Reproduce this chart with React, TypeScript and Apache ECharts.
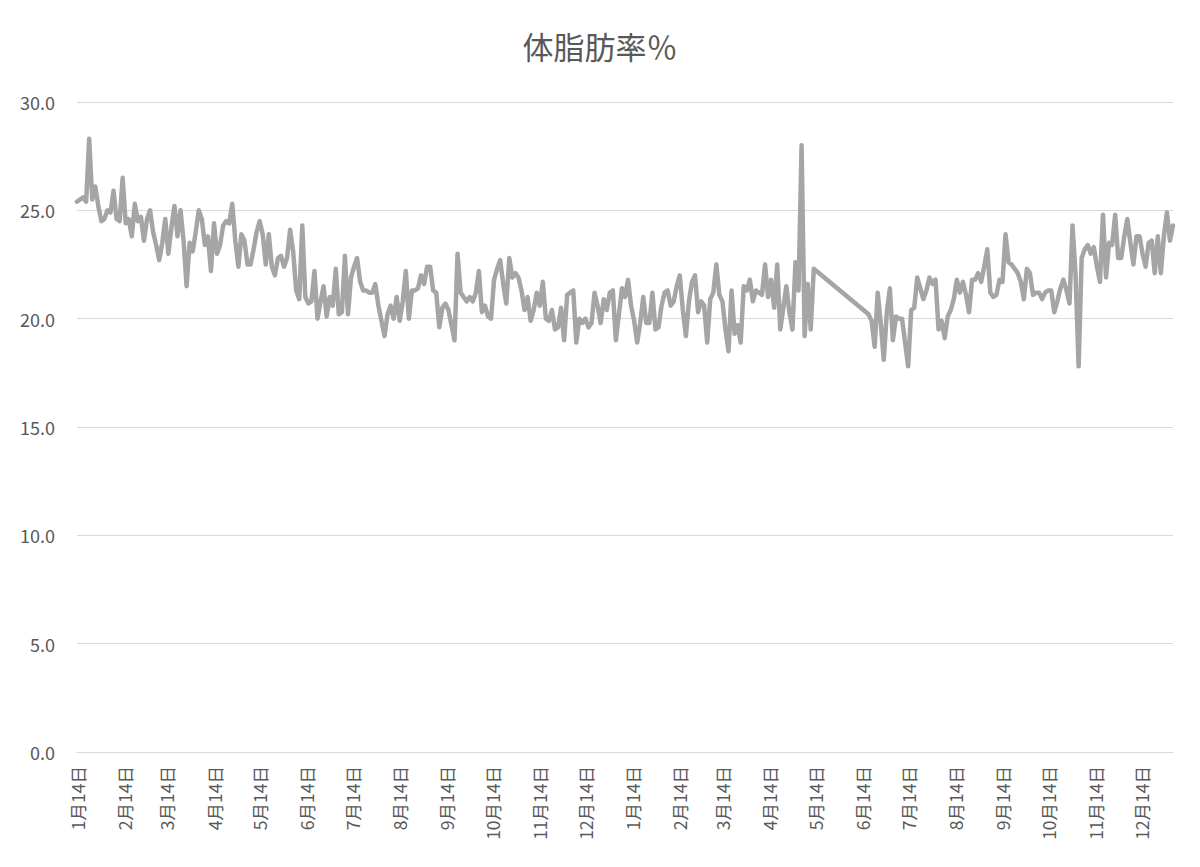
import React, { useEffect, useRef } from "react";
import * as echarts from "echarts";

// Body-fat readings (%), one reading every 2 days starting 2018-01-14; null = no data (gap)
const startYear = 2018;
const startMonth = 0; // January
const startDay = 14;
const stepDays = 2;

const fatPercent: (number | null)[] = [
  // Jan–Feb (year 1)
  25.4, 25.5, 25.6, 25.4, 28.3, 25.5, 26.1, 25.2, 24.5, 24.6, 25.0, 24.9, 25.9, 24.6, 24.5,
  26.5, 24.4, 24.6, 23.8, 25.3, 24.5, 24.7, 23.6, 24.6, 25.0, 24.0, 23.4, 22.7, 23.5,
  // Mar–May
  24.6, 23.0, 24.2, 25.2, 23.8, 25.0, 23.6, 21.5, 23.5, 23.1, 24.0, 25.0, 24.6, 23.4, 23.8,
  22.2, 24.4, 23.0, 23.4, 24.3, 24.5, 24.4, 25.3, 23.6, 22.4, 23.9, 23.6, 22.5, 22.5, 23.2,
  // May–Jul
  24.0, 24.5, 23.9, 22.5, 23.9, 22.4, 22.0, 22.8, 22.9, 22.4, 22.8, 24.1, 23.1, 21.3, 20.9,
  24.3, 21.0, 20.7, 20.8, 22.2, 20.0, 20.8, 21.5, 20.1, 21.0, 20.6, 22.3, 20.2, 20.3, 22.9, 20.2,
  // Jul–Sep
  21.9, 22.4, 22.8, 21.7, 21.3, 21.3, 21.2, 21.2, 21.6, 20.6, 19.9, 19.2, 20.2, 20.6, 20.0,
  21.0, 19.9, 20.8, 22.2, 20.0, 21.3, 21.3, 21.4, 22.0, 21.6, 22.4, 22.4, 21.3, 21.2, 19.6,
  // Sep–Nov
  20.5, 20.7, 20.4, 19.7, 19.0, 23.0, 21.2, 21.0, 20.8, 21.0, 20.8, 21.2, 22.2, 20.3, 20.6,
  20.1, 20.0, 21.8, 22.3, 22.7, 21.6, 20.7, 22.8, 21.9, 22.1, 21.9, 21.3, 20.4, 21.0, 19.9,
  // Nov–Jan
  20.4, 21.2, 20.6, 21.7, 20.0, 19.9, 20.4, 19.5, 19.6, 20.5, 19.0, 21.1, 21.2, 21.3, 18.9,
  20.0, 19.8, 20.0, 19.6, 19.8, 21.2, 20.6, 19.8, 20.9, 20.4, 21.2, 21.3, 19.0, 20.2, 21.4,
  // Jan–Mar (year 2)
  21.0, 21.8, 20.6, 19.9, 18.9, 19.8, 21.0, 19.8, 19.8, 21.2, 19.5, 19.6, 20.6, 21.2, 21.3,
  20.6, 20.8, 21.5, 22.0, 20.4, 19.2, 20.8, 21.7, 22.0, 20.3, 20.8, 20.6, 18.9, 20.9, 21.2,
  // Mar–May
  22.5, 21.1, 20.8, 19.5, 18.5, 21.3, 19.3, 19.7, 18.9, 21.5, 21.3, 21.8, 20.8, 21.3, 21.2,
  21.1, 22.5, 21.0, 21.8, 20.5, 22.5, 19.5, 20.5, 21.5, 20.3, 19.5, 22.6, 21.3, 28.0, 19.2, 21.6,
  // May–Jul (gap)
  19.5, 22.3, null, null, null, null, null, null, null, null, null, null, null, null, null,
  null, null, null, null, 20.2, 19.9, 18.7, 21.2, 19.8, 18.1, 20.3, 21.4, 19.0, 20.1, 20.0,
  // Jul–Sep
  20.0, 18.9, 17.8, 20.4, 20.5, 21.9, 21.4, 20.9, 21.3, 21.9, 21.6, 21.8, 19.5, 19.9, 19.1,
  20.1, 20.4, 20.9, 21.8, 21.2, 21.7, 21.1, 20.3, 21.8, 21.8, 22.1, 21.7, 22.4, 23.2, 21.2,
  // Sep–Nov
  21.0, 21.1, 21.8, 21.7, 23.9, 22.6, 22.5, 22.3, 22.1, 21.7, 20.9, 22.3, 22.1, 21.1, 21.2,
  21.2, 20.9, 21.2, 21.3, 21.3, 20.3, 20.8, 21.4, 21.8, 21.3, 20.7, 24.3, 22.0, 17.8, 22.8,
  // Nov–Jan
  23.2, 23.4, 23.0, 23.3, 22.4, 21.7, 24.8, 21.9, 23.5, 23.4, 24.8, 22.8, 22.8, 23.8, 24.6,
  23.5, 22.5, 23.8, 23.8, 23.0, 22.4, 23.5, 23.6, 22.1, 23.8, 22.1, 23.8, 24.9, 23.6, 24.3,
];

const tickLabels = [
  "1月14日", "2月14日", "3月14日", "4月14日", "5月14日", "6月14日",
  "7月14日", "8月14日", "9月14日", "10月14日", "11月14日", "12月14日",
  "1月14日", "2月14日", "3月14日", "4月14日", "5月14日", "6月14日",
  "7月14日", "8月14日", "9月14日", "10月14日", "11月14日", "12月14日",
];

const yMin = 0;
const yMax = 30;
const yStep = 5;

const titleText = "体脂肪率％";

export default function App() {
  const ref = useRef<HTMLDivElement>(null);

  useEffect(() => {
    if (!ref.current) return;
    const chart = echarts.init(ref.current, null, { renderer: "svg" });
    const DAY = 86400000;
    const t0 = Date.UTC(startYear, startMonth, startDay);
    // x = days since the first reading
    const seriesData = fatPercent.map((v, i) => [i * stepDays, v]);
    const lastDay = (fatPercent.length - 1) * stepDays;
    const tickDays = tickLabels.map((_, k) =>
      Math.round((Date.UTC(startYear, startMonth + k, startDay) - t0) / DAY)
    );
    const font = '"Noto Sans CJK JP", "Noto Sans", sans-serif';

    chart.setOption({
      animation: false,
      backgroundColor: "#ffffff",
      title: {
        text: titleText,
        left: "center",
        top: 25,
        textStyle: {
          color: "#595959",
          fontSize: 31,
          fontWeight: "normal",
          fontFamily: font,
        },
      },
      grid: { left: 77, right: 27, top: 102, bottom: 115, containLabel: false },
      xAxis: {
        type: "value",
        min: 0,
        max: lastDay,
        axisLine: { show: true, lineStyle: { color: "#D9D9D9", width: 1 } },
        axisTick: { show: false },
        splitLine: { show: false },
        axisLabel: {
          customValues: tickDays,
          rotate: 90,
          margin: 14,
          color: "#595959",
          fontSize: 17.5,
          fontFamily: font,
          formatter: (val: number) => {
            const idx = tickDays.indexOf(Math.round(val));
            return idx >= 0 ? tickLabels[idx] : "";
          },
        },
      },
      yAxis: {
        type: "value",
        min: yMin,
        max: yMax,
        interval: yStep,
        axisLine: { show: false },
        axisTick: { show: false },
        splitLine: { show: true, lineStyle: { color: "#D9D9D9", width: 1 } },
        axisLabel: {
          color: "#595959",
          fontSize: 18,
          fontFamily: font,
          margin: 22,
          formatter: (v: number) => v.toFixed(1),
        },
      },
      series: [
        {
          type: "line",
          data: seriesData,
          showSymbol: false,
          symbol: "none",
          connectNulls: true,
          lineStyle: { color: "#A5A5A5", width: 4.5, join: "round", cap: "round" },
        },
      ],
    });

    return () => chart.dispose();
  }, []);

  return (
    <div
      ref={ref}
      style={{ position: "fixed", left: 0, top: 0, width: 1200, height: 867, background: "#fff" }}
    />
  );
}
